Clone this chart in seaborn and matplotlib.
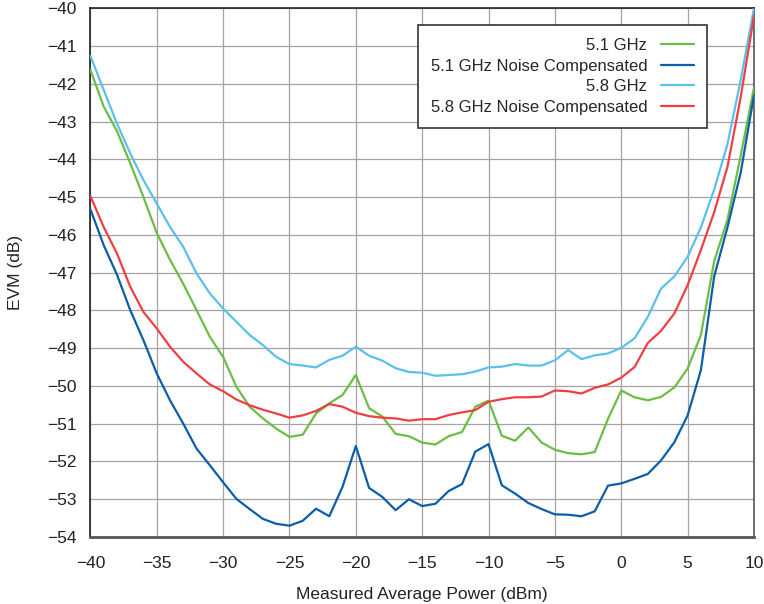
import numpy as np
import pandas as pd
import matplotlib
matplotlib.use("Agg")
import matplotlib.pyplot as plt
import seaborn as sns

power = list(range(-40, 11))

evm_51 = [-41.63, -42.6, -43.25, -44.1, -45.0, -45.95, -46.66, -47.3, -47.99, -48.7,
          -49.23, -50.02, -50.55, -50.86, -51.13, -51.35, -51.29, -50.73, -50.46, -50.24,
          -49.71, -50.59, -50.81, -51.27, -51.33, -51.5, -51.55, -51.33, -51.22, -50.55,
          -50.39, -51.32, -51.45, -51.1, -51.5, -51.69, -51.78, -51.81, -51.75, -50.87,
          -50.12, -50.3, -50.38, -50.29, -50.04, -49.54, -48.65, -46.7, -45.6, -43.9, -42.1]

evm_51_nc = [-45.32, -46.27, -47.05, -47.99, -48.79, -49.67, -50.38, -51.0, -51.66, -52.1,
             -52.55, -52.99, -53.26, -53.52, -53.65, -53.7, -53.57, -53.25, -53.45, -52.67,
             -51.59, -52.7, -52.94, -53.29, -53.0, -53.18, -53.12, -52.78, -52.6, -51.74,
             -51.54, -52.63, -52.85, -53.1, -53.26, -53.4, -53.41, -53.45, -53.32, -52.64,
             -52.58, -52.46, -52.33, -51.97, -51.49, -50.78, -49.58, -47.1, -45.8, -44.35, -42.3]

evm_58 = [-41.26, -42.16, -43.05, -43.84, -44.55, -45.17, -45.79, -46.32, -47.02, -47.55,
          -47.95, -48.3, -48.65, -48.92, -49.23, -49.42, -49.46, -49.51, -49.31, -49.2,
          -48.96, -49.2, -49.33, -49.53, -49.63, -49.65, -49.73, -49.71, -49.69, -49.62,
          -49.51, -49.49, -49.42, -49.46, -49.46, -49.32, -49.05, -49.29, -49.19, -49.14,
          -48.99, -48.74, -48.17, -47.42, -47.1, -46.58, -45.8, -44.8, -43.6, -41.9, -40.0]

evm_58_nc = [-44.97, -45.79, -46.49, -47.37, -48.04, -48.48, -48.96, -49.36, -49.67, -49.96,
             -50.14, -50.36, -50.51, -50.63, -50.73, -50.84, -50.78, -50.66, -50.48, -50.55,
             -50.71, -50.8, -50.84, -50.86, -50.92, -50.88, -50.88, -50.77, -50.7, -50.64,
             -50.42, -50.35, -50.3, -50.3, -50.28, -50.12, -50.14, -50.2, -50.05, -49.96,
             -49.78, -49.5, -48.86, -48.54, -48.08, -47.33, -46.4, -45.4, -44.2, -42.35, -40.2]

series_names = ["5.1 GHz", "5.1 GHz Noise Compensated", "5.8 GHz", "5.8 GHz Noise Compensated"]
series_colors = ["#6cbd45", "#0b5ea8", "#5bc0eb", "#ee4043"]

x_ticks = [-40, -35, -30, -25, -20, -15, -10, -5, 0, 5, 10]
y_ticks = list(range(-54, -39))

frames = []
for name, vals in zip(series_names, [evm_51, evm_51_nc, evm_58, evm_58_nc]):
    frames.append(pd.DataFrame({"power": power, "evm": vals, "series": name}))
df = pd.concat(frames, ignore_index=True)

sns.set_style("white")
plt.rcParams["font.family"] = ["Liberation Sans", "DejaVu Sans"]

fig = plt.figure(figsize=(7.64, 6.04), dpi=100)
ax = fig.add_axes([0.1183, 0.1109, 0.8686, 0.8754])

sns.lineplot(data=df, x="power", y="evm", hue="series", hue_order=series_names,
             palette=dict(zip(series_names, series_colors)), linewidth=1.6, ax=ax,
             legend=True, zorder=3)

ax.set_xlim(-40, 10)
ax.set_ylim(-54, -40)
ax.set_xticks(x_ticks)
ax.set_yticks(y_ticks)
ax.grid(True, color="#a3a3a3", linewidth=0.9, zorder=0)
ax.set_axisbelow(True)

for side, sp in ax.spines.items():
    sp.set_visible(True)
    sp.set_color("#222222")
    sp.set_linewidth(1.2)
ax.spines["bottom"].set_color("#555555")
ax.spines["bottom"].set_linewidth(2.0)
ax.spines["right"].set_color("#555555")

ax.tick_params(axis="both", which="major", direction="out", length=7, width=1.0,
               color="#111111", labelsize=12.5, labelcolor="#222222")
ax.tick_params(axis="y", pad=3)
ax.tick_params(axis="x", pad=7)

ax.set_xlabel("Measured Average Power (dBm)", fontsize=12.5, color="#222222", labelpad=11)
ax.set_ylabel("EVM (dB)", fontsize=12.5, color="#222222", labelpad=17)

handles, labels = ax.get_legend_handles_labels()
leg = ax.legend(handles, labels, loc="upper right", bbox_to_anchor=(0.929, 0.968),
                borderaxespad=0, markerfirst=False, fontsize=12, frameon=True,
                fancybox=False, edgecolor="#333333", framealpha=1,
                handlelength=2.0, handletextpad=0.8, labelspacing=0.33, borderpad=0.78)
leg.get_frame().set_linewidth(1.2)
for line in leg.get_lines():
    line.set_linewidth(1.6)

fig.savefig("out.png", dpi=100)
